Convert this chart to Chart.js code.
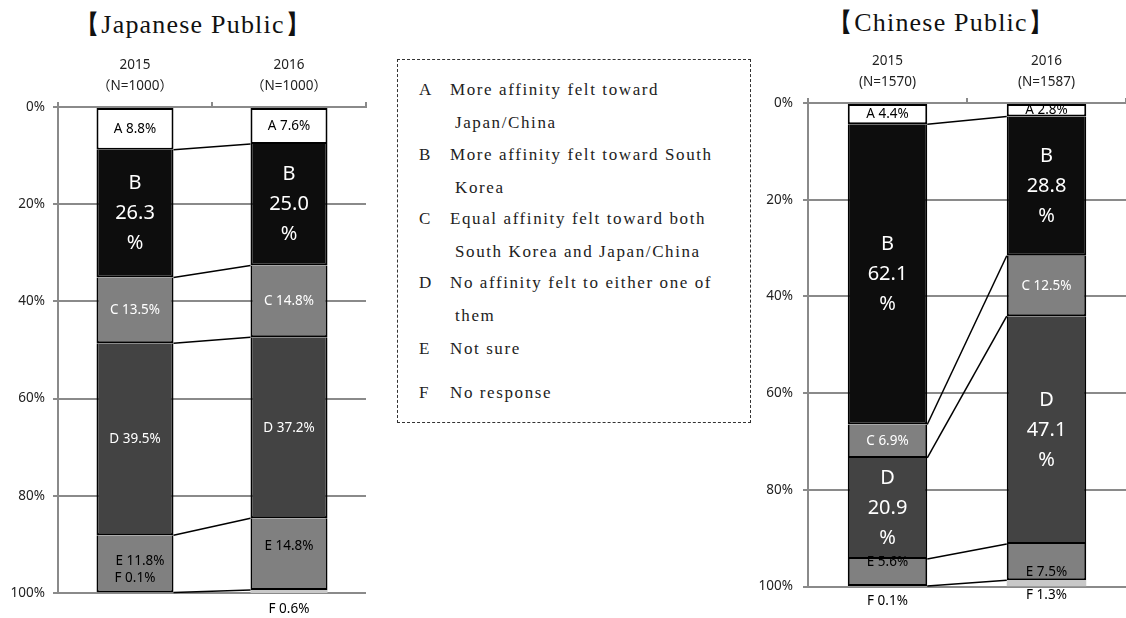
<!DOCTYPE html>
<html>
<head>
<meta charset="utf-8">
<script src="https://cdn.jsdelivr.net/npm/chart.js@4.4.0/dist/chart.umd.min.js"></script>
<style>
  body { margin: 0; background: #fff; width: 1126px; height: 618px; overflow: hidden; position: relative; }
  canvas { position: absolute; top: 0; }
  .title { position: absolute; font-family: "Liberation Serif", serif; font-size: 26px; letter-spacing: 1.2px; line-height: 30px; color: #111; white-space: nowrap; transform: translateX(-50%); }
  .box { position: absolute; left: 397px; top: 59px; width: 354px; height: 364px; box-sizing: border-box; border: 1px dashed #333;
         font-family: "Liberation Serif", serif; font-size: 17px; letter-spacing: 1.6px; line-height: 32.5px; color: #222; }
  .item { position: absolute; left: 21px; white-space: nowrap; }
  .item .k { position: absolute; left: 0; }
  .item .t { position: absolute; left: 31px; }
  .item .t2 { position: absolute; left: 36px; top: 32.5px; }
</style>
</head>
<body>
<div class="title" style="left:193px; top:10px;">【Japanese Public】</div>
<div class="title" style="left:941px; top:8px;">【Chinese Public】</div>

<div class="box">
  <div class="item" style="top:14px"><span class="k">A</span><span class="t">More affinity felt toward</span><span class="t2">Japan/China</span></div>
  <div class="item" style="top:79px"><span class="k">B</span><span class="t">More affinity felt toward South</span><span class="t2">Korea</span></div>
  <div class="item" style="top:143px"><span class="k">C</span><span class="t">Equal affinity felt toward both</span><span class="t2">South Korea and Japan/China</span></div>
  <div class="item" style="top:207px"><span class="k">D</span><span class="t">No affinity felt to either one of</span><span class="t2">them</span></div>
  <div class="item" style="top:273px"><span class="k">E</span><span class="t">Not sure</span></div>
  <div class="item" style="top:317px"><span class="k">F</span><span class="t">No response</span></div>
</div>

<canvas id="jpChart" width="380" height="618" style="left:0; width:380px; height:618px;"></canvas>
<canvas id="cnChart" width="376" height="618" style="left:750px; width:376px; height:618px;"></canvas>

<script>
// categories and values (percent)
const LETTERS = ["A", "B", "C", "D", "E", "F"]
const jpCategories = [["2015", "（N=1000）"], ["2016", "（N=1000）"]]
const cnCategories = [["2015", "(N=1570)"], ["2016", "(N=1587)"]]

const jpA = [8.8, 7.6]
const jpB = [26.3, 25.0]
const jpC = [13.5, 14.8]
const jpD = [39.5, 37.2]
const jpE = [11.8, 14.8]
const jpF = [0.1, 0.6]

const cnA = [4.4, 2.8]
const cnB = [62.1, 28.8]
const cnC = [6.9, 12.5]
const cnD = [20.9, 47.1]
const cnE = [5.6, 7.5]
const cnF = [0.1, 1.3]

const FILLS = ["#ffffff", "#0d0d0d", "#808080", "#434343", "#808080", "#c8c8c8"]
const GRID = "#8a8a8a"
const SANS = '"Noto Sans", "Noto Sans CJK JP", sans-serif'

// how each segment label is drawn
const jpLabelSpec = [
  { kind: "small", color: "#000" },
  { kind: "big", color: "#fff" },
  { kind: "small", color: "#fff" },
  { kind: "small", color: "#fff" },
  { kind: "small", color: "#000", dx: [5, 0], dy: [-3, -8] },
  { kind: ["small", "below"], color: "#000", dy: [-15, 16] },
]
const cnLabelSpec = [
  { kind: "small", color: "#000" },
  { kind: "big", color: "#fff" },
  { kind: "small", color: "#fff" },
  { kind: "big", color: "#fff" },
  { kind: "small", color: "#000", dy: [-10, 10] },
  { kind: "below", color: "#000", dy: [15, 9] },
]

// lines joining the segment boundaries of the two bars
const connectors = {
  id: "connectors",
  afterDatasetsDraw(chart) {
    const ctx = chart.ctx
    const y = chart.scales.y
    const sets = chart.data.datasets
    const b0 = chart.getDatasetMeta(0).data[0]
    const b1 = chart.getDatasetMeta(0).data[1]
    const x0 = b0.x + b0.width / 2
    const x1 = b1.x - b1.width / 2
    let c0 = 0, c1 = 0
    ctx.save()
    ctx.strokeStyle = "#000"
    ctx.lineWidth = 1.5
    for (let i = 0; i < sets.length - 1; i++) {
      c0 += sets[i].data[0]
      c1 += sets[i].data[1]
      ctx.beginPath()
      ctx.moveTo(x0, y.getPixelForValue(c0))
      ctx.lineTo(x1, y.getPixelForValue(c1))
      ctx.stroke()
    }
    ctx.restore()
  },
}

// text inside / below the segments
const segLabels = {
  id: "segLabels",
  afterDatasetsDraw(chart, args, opts) {
    const ctx = chart.ctx
    const yScale = chart.scales.y
    ctx.save()
    ctx.textAlign = "center"
    ctx.textBaseline = "middle"
    opts.spec.forEach((s, i) => {
      chart.getDatasetMeta(i).data.forEach((bar, j) => {
        const v = chart.data.datasets[i].data[j]
        const kind = Array.isArray(s.kind) ? s.kind[j] : s.kind
        const dx = s.dx ? s.dx[j] : 0
        const dy = s.dy ? s.dy[j] : 0
        const x = bar.x + dx
        const mid = (bar.y + bar.base) / 2 + dy
        ctx.fillStyle = s.color
        if (kind === "big") {
          ctx.font = "20px " + SANS
          ;[LETTERS[i], v.toFixed(1), "%"].forEach((t, k) => ctx.fillText(t, x, mid + (k - 1) * 30))
        } else {
          ctx.font = "13.5px " + SANS
          const yy = kind === "below" ? yScale.getPixelForValue(100) + dy : mid
          ctx.fillText(LETTERS[i] + " " + v.toFixed(1) + "%", x, yy)
        }
      })
    })
    ctx.restore()
  },
}

function makeChart(id, categories, series, spec, pad) {
  const datasets = series.map((vals, i) => ({
    label: LETTERS[i],
    data: vals,
    backgroundColor: FILLS[i],
    borderColor: "#000",
    borderWidth: i === 5 ? 0 : 2,
    borderSkipped: i === 0 ? false : "start",
    barPercentage: 0.5,
    categoryPercentage: 1,
  }))
  return new Chart(document.getElementById(id), {
    type: "bar",
    data: { labels: categories, datasets },
    plugins: [connectors, segLabels],
    options: {
      responsive: false,
      animation: false,
      layout: { padding: { left: 0, top: 0, right: pad.right, bottom: pad.bottom } },
      plugins: {
        legend: { display: false },
        tooltip: { enabled: false },
        segLabels: { spec },
      },
      scales: {
        x: {
          position: "top",
          stacked: true,
          grid: { offset: true, drawOnChartArea: false, tickLength: 5, color: GRID, lineWidth: 2 },
          border: { color: GRID, width: 2 },
          ticks: { color: "#222", font: { family: SANS, size: 13.5, lineHeight: 1.5 }, padding: 6, maxRotation: 0 },
          afterFit: (s) => { s.height = pad.top },
        },
        y: {
          stacked: true,
          reverse: true,
          min: 0,
          max: 100,
          ticks: { stepSize: 20, callback: (v) => v + "%", color: "#222", font: { family: SANS, size: 13.5 }, padding: pad.tickPad },
          grid: { color: GRID, lineWidth: 2, tickLength: 5 },
          border: { color: GRID, width: 2 },
          afterFit: (s) => { s.width = 58 },
        },
      },
    },
  })
}

makeChart("jpChart", jpCategories, [jpA, jpB, jpC, jpD, jpE, jpF], jpLabelSpec, { top: 107, bottom: 25, right: 14, tickPad: 8 })
makeChart("cnChart", cnCategories, [cnA, cnB, cnC, cnD, cnE, cnF], cnLabelSpec, { top: 103, bottom: 31.5, right: 0, tickPad: 10 })
</script>
</body>
</html>
